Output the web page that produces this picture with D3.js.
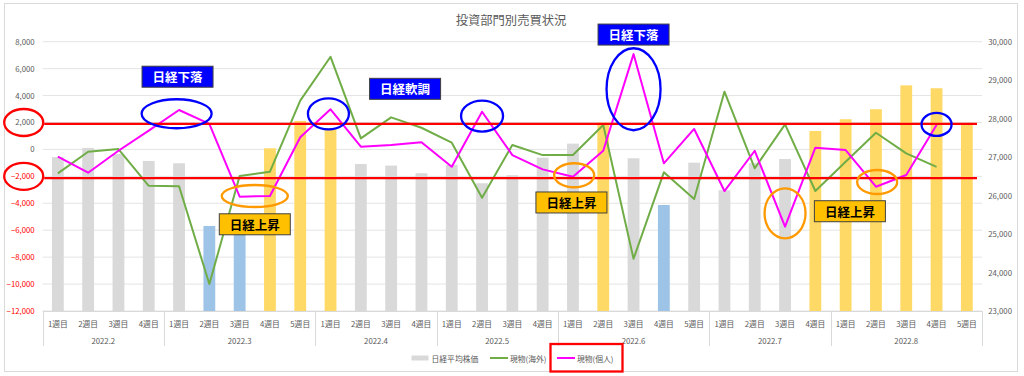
<!DOCTYPE html>
<html lang="ja">
<head>
<meta charset="utf-8">
<title>投資部門別売買状況</title>
<script src="https://d3js.org/d3.v7.min.js"></script>
<style>
  body { margin: 0; background: #fff; }
  text { font-family: "Noto Sans CJK JP", "Noto Sans", sans-serif; }
</style>
</head>
<body>
<svg id="chart" width="1024" height="376"></svg>
<script>
// 月と週の数
const months = ["2022.2", "2022.3", "2022.4", "2022.5", "2022.6", "2022.7", "2022.8"];
const weekCounts = [4, 5, 4, 4, 5, 4, 5];

// 日経平均株価 (右軸)
const nikkei = [27000, 27240, 27080, 26900, 26840, 25210, 25350, 27230, 27940, 27750,
  26820, 26780, 26580, 26800, 26320, 26530, 26985, 27350, 27895, 26970,
  25755, 26855, 26140, 26840, 26950, 27680, 27985, 28245, 28865, 28790, 27855];
// 棒の色分け g=通常 b=下落 y=上昇
const barKind = ["g","g","g","g","g","b","b","y","y","y",
  "g","g","g","g","g","g","g","g","y","g",
  "b","g","g","g","g","y","y","y","y","y","y"];

// 現物(海外) / 現物(個人) (左軸)
const foreign = [-1775, -170, 30, -2700, -2740, -10000, -1975, -1655, 3620, 6880,
  820, 2380, 1610, 500, -3590, 330, -420, -420, 1810, -8120,
  -1700, -3680, 4290, -1400, 1860, -3090, -920, 1240, -290, -1290, null];
const individual = [-540, -1730, -100, 1400, 2930, 1900, -3510, -3460, 900, 2980,
  200, 330, 530, -1290, 2800, -420, -1480, -2030, -100, 7080,
  -1030, 1520, -3090, -100, -5740, 130, -50, -2770, -1900, 1810, null];

const leftTicks = [8000, 6000, 4000, 2000, 0, -2000, -4000, -6000, -8000, -10000, -12000];
const rightTicks = [30000, 29000, 28000, 27000, 26000, 25000, 24000, 23000];

// 注釈 (カテゴリ位置, 左軸の値)
const boxes = [
  { text: "日経下落", cat: 3.95, val: 5400, kind: "down" },
  { text: "日経軟調", cat: 11.46, val: 4500, kind: "down" },
  { text: "日経下落", cat: 19.0, val: 8530, kind: "down" },
  { text: "日経上昇", cat: 6.5, val: -5560, kind: "up" },
  { text: "日経上昇", cat: 16.95, val: -3940, kind: "up" },
  { text: "日経上昇", cat: 26.14, val: -4590, kind: "up" }
];
const rings = [
  { cat: 3.92, val: 2650, rx: 35, ry: 14.5, kind: "down" },
  { cat: 8.93, val: 2640, rx: 20.5, ry: 15.5, kind: "down" },
  { cat: 14.0, val: 2480, rx: 21, ry: 15.5, kind: "down" },
  { cat: 19.0, val: 4470, rx: 27, ry: 41, kind: "down" },
  { cat: 29.0, val: 1860, rx: 15, ry: 11.5, kind: "down" },
  { cat: 6.5, val: -3460, rx: 33, ry: 11, kind: "up" },
  { cat: 17.04, val: -1920, rx: 20, ry: 12, kind: "up" },
  { cat: 24.0, val: -4745, rx: 20.5, ry: 25, kind: "up" },
  { cat: 27.04, val: -2420, rx: 20, ry: 12, kind: "up" }
];
const redLines = [1900, -2130];

// カテゴリ作成
const cats = [];
months.forEach(function(m, mi) {
  for (let w = 1; w <= weekCounts[mi]; w++) cats.push({ month: m, week: w + "週目" });
});
const n = cats.length;

const svg = d3.select("#chart");
const plotLeft = 42.7, plotRight = 982, plotTop = 41.7, plotBottom = 311;

const xc = d3.scaleLinear().domain([0, n]).range([plotLeft, plotRight]);
const xb = d3.scaleBand().domain(d3.range(n)).range([plotLeft, plotRight])
  .paddingInner(0.61).paddingOuter(0.305);
const yl = d3.scaleLinear().domain([-12000, 8000]).range([plotBottom, plotTop]);
const yr = d3.scaleLinear().domain([23000, 30000]).range([plotBottom, plotTop]);

const barColor = { g: "#D9D9D9", b: "#9DC3E6", y: "#FFD966" };
const grey = "#595959";

// 外枠
svg.append("rect").attr("x", 4.5).attr("y", 3.5).attr("width", 1013).attr("height", 368)
  .attr("fill", "#fff").attr("stroke", "#D9D9D9");

// タイトル
svg.append("text").attr("x", 511).attr("y", 25).attr("text-anchor", "middle")
  .attr("font-size", 12.3).attr("fill", grey).text("投資部門別売買状況");

// グリッド
svg.append("g").selectAll("line").data(leftTicks).enter().append("line")
  .attr("x1", plotLeft).attr("x2", plotRight)
  .attr("y1", function(d){ return yl(d); }).attr("y2", function(d){ return yl(d); })
  .attr("stroke", "#E4E4E4").attr("stroke-width", 1);

// 左軸
const yAxisL = d3.axisLeft(yl).tickValues(leftTicks).tickSize(0).tickPadding(8)
  .tickFormat(d3.format(","));
const gL = svg.append("g").attr("transform", "translate(" + plotLeft + ",0)").call(yAxisL);
gL.select(".domain").remove();
gL.selectAll("text").attr("font-size", 7.8).attr("font-family", "Noto Sans CJK JP")
  .attr("fill", function(d){ return d < 0 ? "#FF0000" : grey; });

// 右軸
const yAxisR = d3.axisRight(yr).tickValues(rightTicks).tickSize(0).tickPadding(0)
  .tickFormat(d3.format(","));
const gR = svg.append("g").attr("transform", "translate(987,0)").call(yAxisR);
gR.select(".domain").remove();
gR.selectAll("text").attr("font-size", 7.8).attr("font-family", "Noto Sans CJK JP")
  .attr("x", 25).attr("text-anchor", "end").attr("fill", grey);

// 棒 (日経平均株価)
svg.append("g").selectAll("rect").data(nikkei).enter().append("rect")
  .attr("x", function(d, i){ return xb(i); })
  .attr("width", xb.bandwidth())
  .attr("y", function(d){ return yr(d); })
  .attr("height", function(d){ return plotBottom - yr(d); })
  .attr("fill", function(d, i){ return barColor[barKind[i]]; });

// カテゴリ軸
const axisG = svg.append("g");
axisG.append("line").attr("x1", plotLeft).attr("x2", plotRight)
  .attr("y1", plotBottom + 0.5).attr("y2", plotBottom + 0.5)
  .attr("stroke", "#D9D9D9");
let acc = 0;
const bounds = [0];
weekCounts.forEach(function(c){ acc += c; bounds.push(acc); });
axisG.selectAll(".div").data(bounds).enter().append("line")
  .attr("x1", function(d){ return Math.round(xc(d)) + 0.5; })
  .attr("x2", function(d){ return Math.round(xc(d)) + 0.5; })
  .attr("y1", plotBottom).attr("y2", 346).attr("stroke", "#D9D9D9");
axisG.selectAll(".wk").data(cats).enter().append("text")
  .attr("x", function(d, i){ return xc(i + 0.5); }).attr("y", 327)
  .attr("text-anchor", "middle").attr("font-size", 7.8).attr("fill", grey)
  .text(function(d){ return d.week; });
axisG.selectAll(".mo").data(months).enter().append("text")
  .attr("x", function(d, i){ return (xc(bounds[i]) + xc(bounds[i + 1])) / 2; }).attr("y", 344)
  .attr("text-anchor", "middle").attr("font-size", 7.8).attr("fill", grey)
  .text(function(d){ return d; });

// 折れ線
function drawLine(values, color) {
  const line = d3.line()
    .defined(function(d){ return d != null; })
    .x(function(d, i){ return xc(i + 0.5); })
    .y(function(d){ return yl(d); });
  svg.append("path").datum(values).attr("d", line)
    .attr("fill", "none").attr("stroke", color).attr("stroke-width", 2)
    .attr("stroke-linejoin", "round");
}
drawLine(foreign, "#70AD47");
drawLine(individual, "#FF00FF");

// 赤い基準線
svg.append("g").selectAll("line").data(redLines).enter().append("line")
  .attr("x1", plotLeft + 1.5).attr("x2", plotRight - 5)
  .attr("y1", function(d){ return yl(d); }).attr("y2", function(d){ return yl(d); })
  .attr("stroke", "#FF0000").attr("stroke-width", 2.3);

// 左軸ラベルの赤丸
svg.append("g").selectAll("ellipse").data([2000, -2000]).enter().append("ellipse")
  .attr("cx", 23.7).attr("cy", function(d){ return yl(d); }).attr("rx", 19.5).attr("ry", 13.5)
  .attr("fill", "none").attr("stroke", "#FF0000").attr("stroke-width", 2.3);

// 楕円注釈
svg.append("g").selectAll("ellipse").data(rings).enter().append("ellipse")
  .attr("cx", function(d){ return xc(d.cat + 0.5); })
  .attr("cy", function(d){ return yl(d.val); })
  .attr("rx", function(d){ return d.rx; }).attr("ry", function(d){ return d.ry; })
  .attr("fill", "none").attr("stroke-width", 2.3)
  .attr("stroke", function(d){ return d.kind === "down" ? "#0000FF" : "#FF9900"; });

// ボックス注釈
const bw = 71, bh = 21;
const bg = svg.append("g").selectAll("g").data(boxes).enter().append("g")
  .attr("transform", function(d){ return "translate(" + xc(d.cat + 0.5) + "," + yl(d.val) + ")"; });
bg.append("rect").attr("x", -bw / 2).attr("y", -bh / 2).attr("width", bw).attr("height", bh)
  .attr("fill", function(d){ return d.kind === "down" ? "#0000FF" : "#FFC000"; })
  .attr("stroke", "#404040").attr("stroke-width", 1);
bg.append("text").attr("text-anchor", "middle").attr("dominant-baseline", "central")
  .attr("font-size", 12.5).attr("font-weight", "bold")
  .attr("fill", function(d){ return d.kind === "down" ? "#fff" : "#000"; })
  .text(function(d){ return d.text; });

// 凡例
const legend = svg.append("g").attr("transform", "translate(0,358)");
legend.append("rect").attr("x", 411.5).attr("y", -2.5).attr("width", 17).attr("height", 5).attr("fill", "#D9D9D9");
legend.append("text").attr("x", 431.5).attr("y", 0).attr("dominant-baseline", "central")
  .attr("font-size", 7.8).attr("fill", grey).text("日経平均株価");
legend.append("line").attr("x1", 490).attr("x2", 508).attr("y1", 0).attr("y2", 0)
  .attr("stroke", "#70AD47").attr("stroke-width", 2);
legend.append("text").attr("x", 510).attr("y", 0).attr("dominant-baseline", "central")
  .attr("font-size", 7.8).attr("fill", grey).text("現物(海外)");
legend.append("line").attr("x1", 557).attr("x2", 575).attr("y1", 0).attr("y2", 0)
  .attr("stroke", "#FF00FF").attr("stroke-width", 2);
legend.append("text").attr("x", 577).attr("y", 0).attr("dominant-baseline", "central")
  .attr("font-size", 7.8).attr("fill", grey).text("現物(個人)");
svg.append("rect").attr("x", 550.5).attr("y", 344).attr("width", 72).attr("height", 27.5)
  .attr("fill", "none").attr("stroke", "#FF0000").attr("stroke-width", 2.3);
</script>
</body>
</html>
